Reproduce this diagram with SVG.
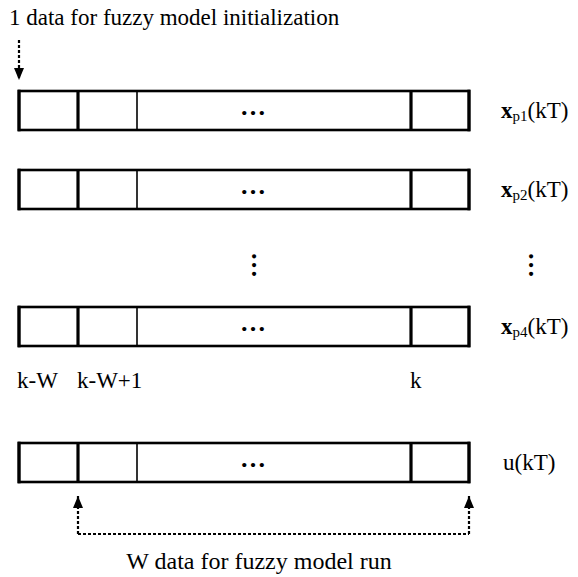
<svg xmlns="http://www.w3.org/2000/svg" width="578" height="577" viewBox="0 0 578 577">
<defs>
<style>
.t{font-family:"Liberation Serif","Times New Roman",serif;font-size:23px;fill:#000}
.lbl{font-family:"Liberation Serif","Times New Roman",serif;font-size:23px;fill:#000}
.sub{font-size:15px}
.ell{font-family:"Liberation Serif","Times New Roman",serif;font-size:26px;font-weight:bold;fill:#000}
.box{fill:#fff;stroke:#000;stroke-width:2.6}
.thick{stroke:#000;stroke-width:3.2}
.thin{stroke:#000;stroke-width:1.6}
.dash{fill:none;stroke:#000;stroke-width:2.2;stroke-dasharray:3 2}
</style>
<marker id="ah" viewBox="0 0 12 10" refX="12" refY="5" markerWidth="12" markerHeight="10" markerUnits="userSpaceOnUse" orient="auto">
<path d="M0,0 L12,5 L0,10 Z" fill="#000"/>
</marker>
<g id="cells">
<rect class="box" x="19" y="0" width="450" height="39"/>
<line class="thick" x1="19" y1="-1.3" x2="19" y2="40.3"/>
<line class="thick" x1="78" y1="0" x2="78" y2="39"/>
<line class="thin" x1="137" y1="0" x2="137" y2="39"/>
<line class="thick" x1="411" y1="0" x2="411" y2="39"/>
<line class="thick" x1="469" y1="-1.3" x2="469" y2="40.3"/>
</g>
</defs>

<text class="t" x="9" y="25">1 data for fuzzy model initialization</text>

<g id="row1">
<use href="#cells" y="91"/>
<text class="ell" x="253" y="115" text-anchor="middle">…</text>
<text class="lbl" x="501" y="118"><tspan font-weight="bold">x</tspan><tspan class="sub" dy="3">p1</tspan><tspan dy="-3">(kT)</tspan></text>
</g>

<g id="row2">
<use href="#cells" y="170"/>
<text class="ell" x="253" y="194" text-anchor="middle">…</text>
<text class="lbl" x="501" y="197"><tspan font-weight="bold">x</tspan><tspan class="sub" dy="3">p2</tspan><tspan dy="-3">(kT)</tspan></text>
</g>

<g id="vdots">
<text class="ell" x="0" y="0" text-anchor="middle" transform="translate(252,265) rotate(90)">…</text>
<text class="ell" x="0" y="0" text-anchor="middle" transform="translate(529,265) rotate(90)">…</text>
</g>

<g id="row4">
<use href="#cells" y="307"/>
<text class="ell" x="253" y="331" text-anchor="middle">…</text>
<text class="lbl" x="501" y="334"><tspan font-weight="bold">x</tspan><tspan class="sub" dy="3">p4</tspan><tspan dy="-3">(kT)</tspan></text>
</g>

<g id="indices">
<text class="lbl" x="17" y="388">k-W</text>
<text class="lbl" x="77" y="388">k-W+1</text>
<text class="lbl" x="410" y="388">k</text>
</g>

<g id="rowu">
<use href="#cells" y="443"/>
<text class="ell" x="253" y="467" text-anchor="middle">…</text>
<text class="lbl" x="503" y="470">u(kT)</text>
</g>

<g id="connectors">
<line class="dash" x1="19" y1="40" x2="19" y2="80" marker-end="url(#ah)"/>
<polyline class="dash" points="78,534 469,534"/>
<line class="dash" x1="78" y1="534" x2="78" y2="496" marker-end="url(#ah)"/>
<line class="dash" x1="469" y1="534" x2="469" y2="496" marker-end="url(#ah)"/>
</g>

<text class="t" x="259" y="569" text-anchor="middle" style="font-size:24px">W data for fuzzy model run</text>
</svg>
